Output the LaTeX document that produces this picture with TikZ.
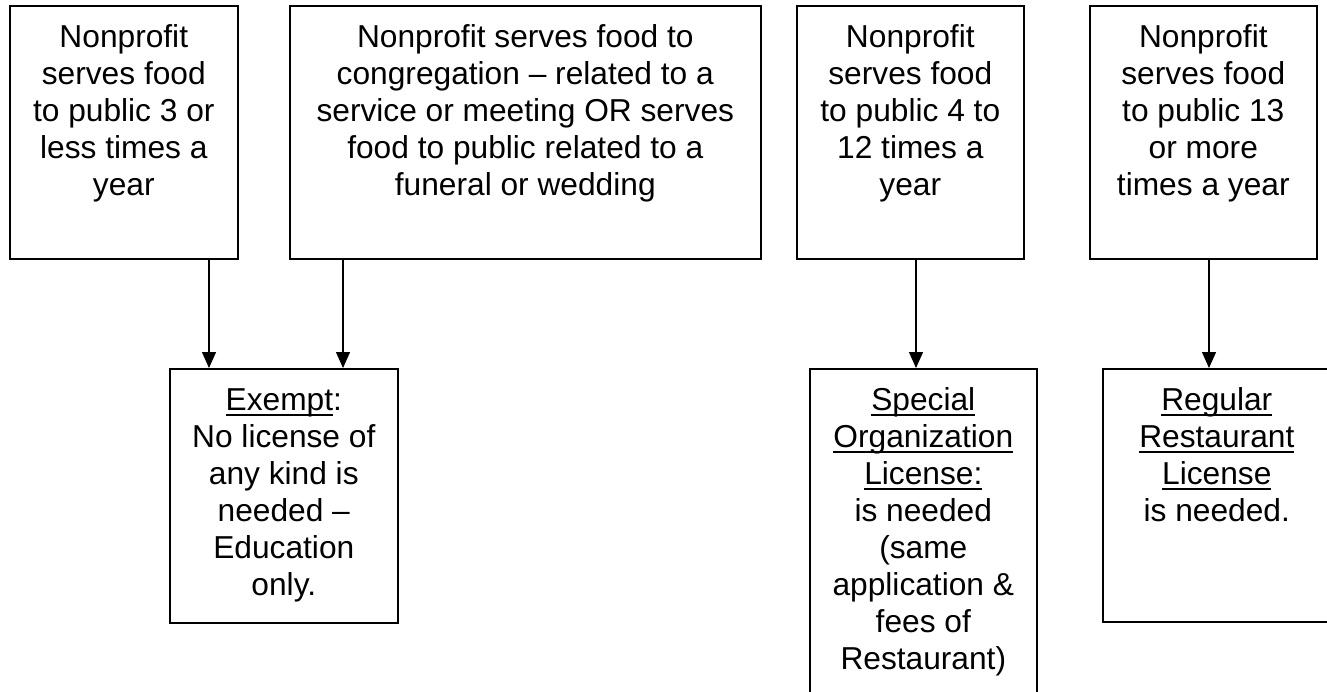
\documentclass[tikz,border=0pt]{standalone}
\usepackage{fontspec}
\setmainfont{Liberation Sans}
\usetikzlibrary{arrows.meta}
\newcommand\myul[1]{\leavevmode\setbox0\hbox{#1}\rlap{\rule[-5pt]{\wd0}{2pt}}\box0}
\newcommand\boxtext[3]{\parbox[c][#2][t]{#1}{\centering\fontsize{31.7}{37}\selectfont\rule{0pt}{42pt}#3\par}}
\tikzset{
  flowbox/.style={draw=black, line width=1.6pt, inner sep=0pt, anchor=north west, fill=white},
  arr/.style={line width=1.3pt, -{Triangle[length=16pt,width=14pt]}}
}
\begin{document}
\begin{tikzpicture}[x=1pt,y=-1pt]
\useasboundingbox (0,0) rectangle (1327,692);
\clip (0,0) rectangle (1327,692);
\node[flowbox] (b1) at (9,5) {\boxtext{228pt}{253pt}{Nonprofit\\serves food\\to public 3 or\\less times a\\year}};
\node[flowbox] (b2) at (289,5) {\boxtext{471pt}{253pt}{Nonprofit serves food to\\congregation -- related to a\\service or meeting OR serves\\food to public related to a\\funeral or wedding}};
\node[flowbox] (b3) at (796,5) {\boxtext{227pt}{253pt}{Nonprofit\\serves food\\to public 4 to\\12 times a\\year}};
\node[flowbox] (b4) at (1089,5) {\boxtext{227pt}{253pt}{Nonprofit\\serves food\\to public 13\\or more\\times a year}};
\node[flowbox] (ex) at (169,368) {\boxtext{228pt}{254pt}{\myul{Exempt}:\\No license of\\any kind is\\needed --\\Education\\only.}};
\node[flowbox] (sp) at (809,368) {\boxtext{227pt}{345pt}{\myul{Special}\\\myul{Organization}\\\myul{License:}\\is needed\\(same\\application \&\\fees of\\Restaurant)}};
\node[flowbox] (rg) at (1102,368) {\boxtext{228pt}{253pt}{\myul{Regular}\\\myul{Restaurant}\\\myul{License}\\is needed.}};
\draw[arr] ([xshift=200pt]b1.south west) -- ([xshift=200pt]b1.south west |- ex.north);
\draw[arr] ([xshift=54pt]b2.south west) -- ([xshift=54pt]b2.south west |- ex.north);
\draw[arr] ([xshift=120pt]b3.south west) -- ([xshift=120pt]b3.south west |- sp.north);
\draw[arr] ([xshift=120pt]b4.south west) -- ([xshift=120pt]b4.south west |- rg.north);
\end{tikzpicture}
\end{document}
